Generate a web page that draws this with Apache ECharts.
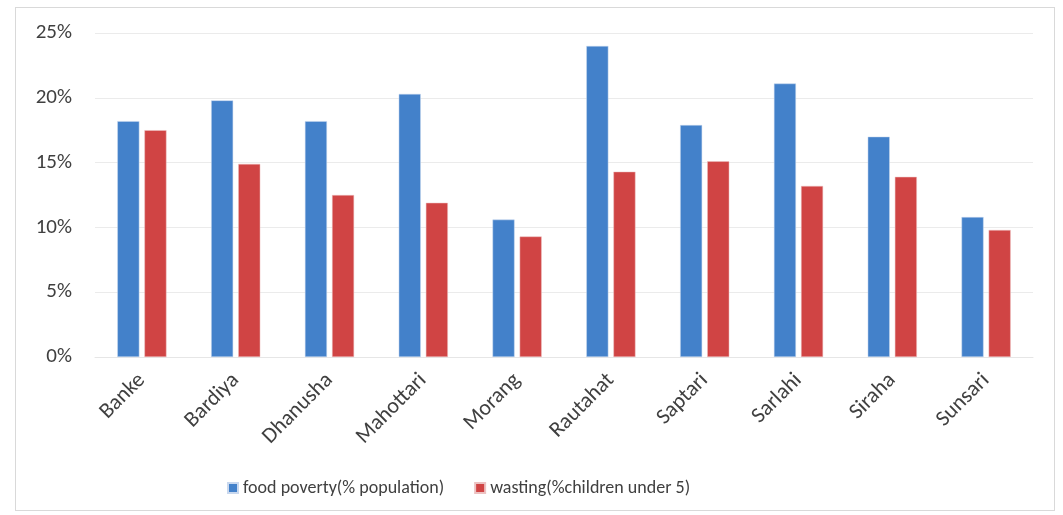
<!DOCTYPE html>
<html>
<head>
<meta charset="utf-8">
<script src="https://cdn.jsdelivr.net/npm/echarts@6/dist/echarts.min.js"></script>
<style>
  html, body { margin: 0; padding: 0; background: #ffffff; }
  #frame { position: absolute; left: 15px; top: 7px; width: 1040px; height: 504px; border: 1px solid #d9d9d9; box-sizing: border-box; }
  #chart { position: absolute; left: 0; top: 0; width: 1063px; height: 515px; }
</style>
</head>
<body>
<div id="frame"></div>
<div id="chart"></div>
<script>
// Districts and indicator values (percent)
const districts = ['Banke', 'Bardiya', 'Dhanusha', 'Mahottari', 'Morang', 'Rautahat', 'Saptari', 'Sarlahi', 'Siraha', 'Sunsari'];
const foodPoverty = [18.2, 19.8, 18.2, 20.3, 10.6, 24.0, 17.9, 21.1, 17.0, 10.8];
const wasting = [17.5, 14.9, 12.5, 11.9, 9.3, 14.3, 15.1, 13.2, 13.9, 9.8];
const seriesNames = ['food poverty(% population)', 'wasting(%children under 5)'];

const fontFamily = 'Carlito, Lato, sans-serif';
const chart = echarts.init(document.getElementById('chart'), null, { renderer: 'canvas' });

chart.setOption({
  animation: false,
  textStyle: { fontFamily: fontFamily },
  grid: { left: 95, right: 30, top: 33, bottom: 158 },
  legend: {
    bottom: 13,
    left: 222,
    itemWidth: 10,
    itemHeight: 10,
    itemGap: 30,
    icon: 'rect',
    textStyle: { fontSize: 18, color: '#404040', fontFamily: fontFamily },
    data: seriesNames
  },
  xAxis: {
    type: 'category',
    data: districts,
    axisLine: { show: true, lineStyle: { color: '#e6e6e6' } },
    axisTick: { show: false },
    axisLabel: { rotate: 45, fontSize: 22, color: '#404040', margin: 20, interval: 0 }
  },
  yAxis: {
    type: 'value',
    min: 0,
    max: 25,
    interval: 5,
    axisLine: { show: false },
    axisTick: { show: false },
    axisLabel: { formatter: '{value}%', fontSize: 21, color: '#404040', margin: 23 },
    splitLine: { lineStyle: { color: '#ebebeb', width: 1 } }
  },
  series: [
    {
      name: seriesNames[0],
      type: 'bar',
      data: foodPoverty,
      barWidth: '23.5%',
      barGap: '23%',
      itemStyle: { color: '#4381ca', borderColor: '#c9d8ee', borderWidth: 0.5 }
    },
    {
      name: seriesNames[1],
      type: 'bar',
      data: wasting,
      barWidth: '23.5%',
      itemStyle: { color: '#d04444', borderColor: '#ecc2c2', borderWidth: 0.5 }
    }
  ]
});
</script>
</body>
</html>
